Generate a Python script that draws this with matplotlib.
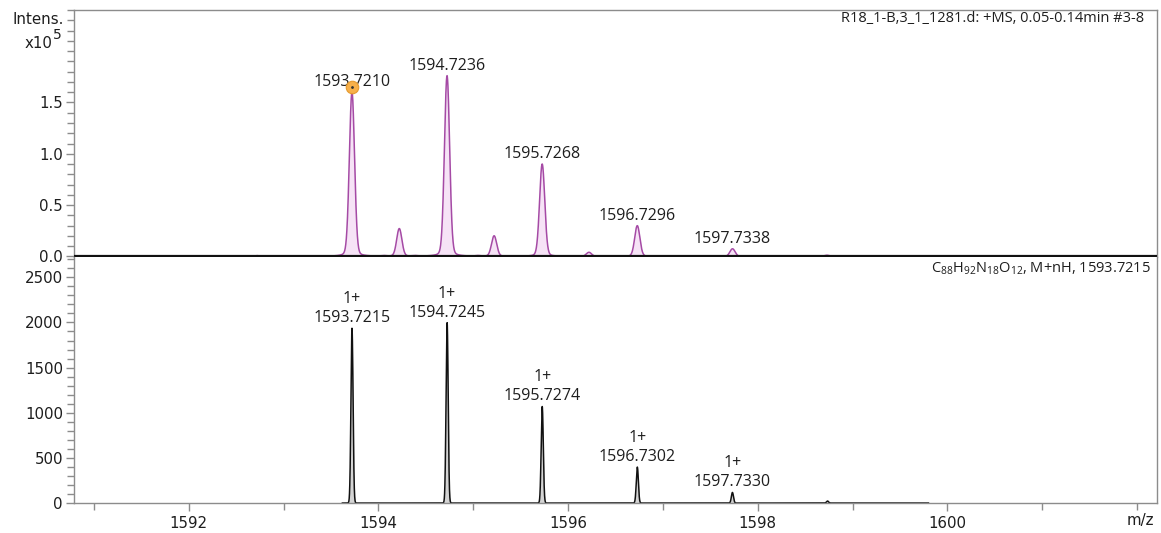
import numpy as np
import matplotlib
matplotlib.use('Agg')
import matplotlib.pyplot as plt
from matplotlib.ticker import MultipleLocator, FixedLocator
import matplotlib.transforms as mtrans

# measured spectrum (intensity x1e5)
meas_mz = [1592.72, 1593.7210, 1594.05, 1594.22, 1594.38, 1594.7236, 1595.05, 1595.22,
           1595.7268, 1596.22, 1596.7296, 1597.7338, 1598.73, 1599.70, 1600.05, 1600.38, 1600.71]
meas_int = [0.008, 1.60, 0.006, 0.27, 0.006, 1.76, 0.006, 0.20,
            0.90, 0.04, 0.30, 0.075, 0.012, 0.006, 0.006, 0.006, 0.006]
meas_labels = ['1593.7210', '1594.7236', '1595.7268', '1596.7296', '1597.7338']

# simulated isotope pattern
sim_mz = [1593.7215, 1594.7245, 1595.7274, 1596.7302, 1597.7330, 1598.7358]
sim_int = [1936, 1998, 1069, 398, 117, 22]
sim_labels = ['1593.7215', '1594.7245', '1595.7274', '1596.7302', '1597.7330']

x_ticks = [1592, 1594, 1596, 1598, 1600]

x_min, x_max = 1590.79, 1602.21
purple = '#a54aa5'
purple_fill = '#f6e3f6'
gray = '#8c8c8c'
txt = '#1e1e1e'


def profile(x, centers, heights, sigma, lor=0.0):
    # gaussian peak with a little lorentzian foot
    y = np.zeros_like(x)
    for c, h in zip(centers, heights):
        g = np.exp(-0.5 * ((x - c) / sigma) ** 2)
        l = 1.0 / (1.0 + ((x - c) / (1.6 * sigma)) ** 2)
        y += h * ((1 - lor) * g + lor * l)
    return y


fig = plt.figure(figsize=(11.61, 5.33), dpi=100)
ax1 = fig.add_axes([74 / 1161, 1 - 257 / 533, (1157 - 74) / 1161, 247 / 533])
ax2 = fig.add_axes([74 / 1161, 1 - 503.3 / 533, (1157 - 74) / 1161, 246.3 / 533])

# top panel
x1 = np.linspace(x_min, x_max, 12000)
y1 = profile(x1, meas_mz, meas_int, 0.027, lor=0.08)
ax1.fill_between(x1, 0, y1, color=purple_fill, lw=0)
ax1.plot(x1, y1, color=purple, lw=1.1)
ax1.axhline(0, color='#111111', lw=1.6, zorder=5)
ax1.set_xlim(x_min, x_max)
ax1.set_ylim(-0.005, 2.40)

for lab in meas_labels:
    i = meas_mz.index(float(lab))
    ax1.annotate(lab, (meas_mz[i], meas_int[i]), xytext=(0, 1.5), textcoords='offset points',
                 ha='center', va='bottom', fontsize=11.5, family='Open Sans', color=txt)

# picked peak marker
off = mtrans.offset_copy(ax1.transData, fig=fig, x=0, y=4, units='points')
ax1.plot([meas_mz[1]], [meas_int[1]], 'o', ms=9, color='#f7b04a', mec='#e59a2e', mew=0.8,
         transform=off, zorder=6)
ax1.plot([meas_mz[1]], [meas_int[1]], '.', ms=2, color='#333333', transform=off, zorder=7)

ax1.yaxis.set_major_locator(FixedLocator([0.0, 0.5, 1.0, 1.5]))
ax1.yaxis.set_minor_locator(MultipleLocator(0.1))
ax1.set_yticklabels(['0.0', '0.5', '1.0', '1.5'])
ax1.tick_params(axis='x', which='both', bottom=False, labelbottom=False)
ax1.spines['bottom'].set_visible(False)

fig.text(1144 / 1161, 1 - 18 / 533, 'R18_1-B,3_1_1281.d: +MS, 0.05-0.14min #3-8',
         ha='right', va='center', fontsize=10.5, family='Open Sans', color=txt)
fig.text(64 / 1161, 1 - 20 / 533, 'Intens.', ha='right', va='center', fontsize=10.8, color=txt)
fig.text(52 / 1161, 1 - 44 / 533, 'x10', ha='right', va='center', fontsize=10.8, color=txt)
fig.text(53 / 1161, 1 - 35 / 533, '5', ha='left', va='center', fontsize=10, color=txt)

# bottom panel
x2 = np.linspace(1593.62, 1599.80, 8000)
y2 = profile(x2, sim_mz, sim_int, 0.011)
ax2.fill_between(x2, 0, y2, color='#d4d4d4', lw=0)
ax2.plot(x2, y2, color='#111111', lw=1.1)
ax2.set_xlim(x_min, x_max)
ax2.set_ylim(-3, 2725)

for i, lab in enumerate(sim_labels):
    ax2.annotate('1+\n' + lab, (sim_mz[i], sim_int[i]), xytext=(0, 1.5), textcoords='offset points',
                 ha='center', va='bottom', multialignment='center', linespacing=1.25,
                 fontsize=11.5, family='Open Sans', color=txt)

ax2.yaxis.set_major_locator(MultipleLocator(500))
ax2.yaxis.set_minor_locator(MultipleLocator(100))
ax2.xaxis.set_major_locator(FixedLocator(x_ticks))
ax2.xaxis.set_minor_locator(MultipleLocator(1))
ax2.spines['top'].set_visible(False)

fig.text(1151 / 1161, 1 - 269 / 533,
         r'C$\mathregular{_{88}}$H$\mathregular{_{92}}$N$\mathregular{_{18}}$O$\mathregular{_{12}}$, M+nH, 1593.7215',
         ha='right', va='center', fontsize=10.5, family='Open Sans', color=txt)
fig.text(1140 / 1161, 1 - 521 / 533, 'm/z', ha='center', va='center', fontsize=10.8, color=txt)

for ax in (ax1, ax2):
    for s in ax.spines.values():
        s.set_color(gray)
        s.set_linewidth(1.0)
    ax.tick_params(which='both', color=gray, labelcolor=txt, labelsize=10.8, width=1.0)
    ax.tick_params(which='major', length=6)
    ax.tick_params(which='minor', length=5)
    ax.tick_params(axis='y', pad=2)

fig.savefig('out.png', dpi=100)
